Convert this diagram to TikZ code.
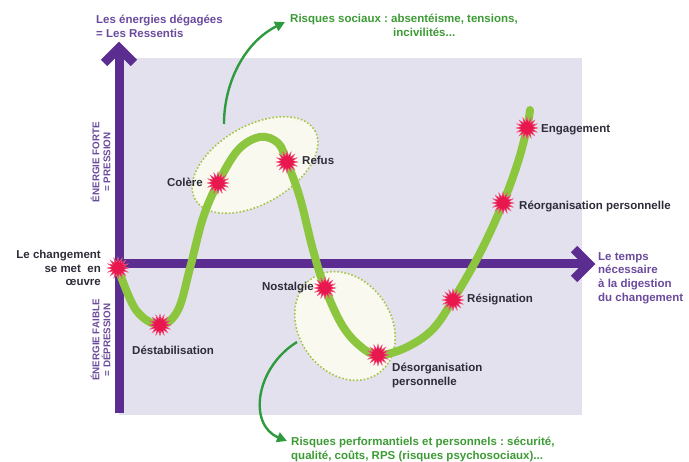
\documentclass[tikz,border=0pt]{standalone}
\usepackage{fontspec}
\setmainfont{Liberation Sans}
\frenchspacing
\usetikzlibrary{shapes.geometric,arrows.meta,calc}
\definecolor{axispurple}{HTML}{5C2D91}
\definecolor{txtpurple}{HTML}{6A4A9C}
\definecolor{lavender}{HTML}{E4E1EF}
\definecolor{riskgreen}{HTML}{2F9B3F}
\definecolor{risktxt}{HTML}{3D9B35}
\definecolor{dotgreen}{HTML}{A3C645}
\definecolor{ellfill}{HTML}{F9F9F0}
\definecolor{starred}{HTML}{E8174E}
\definecolor{darktxt}{HTML}{2D2D3A}
\definecolor{curvegreen}{HTML}{8CC63E}
\tikzset{
  burst/.style={star, star points=16, star point ratio=1.8, minimum size=22pt, inner sep=0pt, fill=starred, draw=starred!70!white, line width=0.4pt},
  axisline/.style={draw=axispurple, line width=9pt},
  axishead/.style={draw=axispurple, line width=9pt, miter limit=10, line join=miter},
  zone/.style={draw=dotgreen, fill=ellfill, line width=1.6pt, dotted},
  riskarrow/.style={draw=riskgreen, line width=2.4pt, -{Triangle[length=10pt,width=10pt]}},
  curve/.style={draw=curvegreen, line width=8pt, line cap=round},
  stage/.style={font=\bfseries\fontsize{11.5}{13.5}\selectfont, text=darktxt, inner sep=0pt},
  purpletxt/.style={font=\bfseries\fontsize{11.5}{13.8}\selectfont, text=txtpurple, inner sep=0pt, align=left},
  vlabel/.style={font=\bfseries\fontsize{9.8}{11}\selectfont, text=txtpurple, inner sep=0pt, align=center, rotate=90},
  risktext/.style={font=\bfseries\fontsize{11.5}{14}\selectfont, text=risktxt, inner sep=0pt, align=left}
}
\begin{document}
\begin{tikzpicture}[x=1pt,y=-1pt]
\useasboundingbox (0,0) rectangle (689,462);
% background panel
\fill[lavender] (119,58) rectangle (582,415);
% zones
\draw[zone, rotate around={30:(255,165)}] (255,165) ellipse (69 and 39);
\draw[zone, rotate around={-55:(345,326)}] (345,326) ellipse (58 and 46);
% axes
\coordinate (yb) at (119,413);
\coordinate (yt) at (119,48);
\coordinate (xl) at (119,264);
\coordinate (xt) at (589,264);
\draw[axisline] (yb) -- ($(yt)+(0,6)$);
\draw[axishead] ($(yt)+(-15,15)$) -- (yt) -- ($(yt)+(15,15)$);
\draw[axisline] (xl) -- ($(xt)+(-6,0)$);
\draw[axishead] ($(xt)+(-15,-15)$) -- (xt) -- ($(xt)+(-15,15)$);
% texts
\node[purpletxt, anchor=west] (ylab) at (96,26.5) {Les énergies dégagées\\= Les Ressentis};
\node[risktext, anchor=west] (rs) at (290,25.5) {Risques sociaux : absentéisme, tensions,\\\hspace*{103pt}incivilités...};
\node[vlabel] (forte) at (100.5,162) {ÉNERGIE FORTE\\= PRESSION};
\node[vlabel] (faible) at (100.5,340) {ÉNERGIE FAIBLE\\= DÉPRESSION};
\node[purpletxt, anchor=west] (temps) at (598,278) {Le temps\\nécessaire\\à la digestion\\du changement};
\node[risktext, anchor=west] (rp) at (291,449.5) {Risques performantiels et personnels : sécurité,\\qualité, coûts, RPS (risques psychosociaux)...};
% risk arrows
\coordinate (a1s) at (224,124);
\coordinate (a1e) at (285,22);
\coordinate (a2s) at (297,342);
\coordinate (a2e) at (287,441);
\draw[riskarrow] (a1s) .. controls (224,82) and (245,42) .. (a1e);
\draw[riskarrow] (a2s) .. controls (255,368) and (248,425) .. (a2e);
% curve
\coordinate (p0) at (118,268);
\coordinate (p1) at (160,325);
\coordinate (p2) at (218,183);
\coordinate (p3) at (287,162);
\coordinate (p4) at (325,288);
\coordinate (p5) at (378,355);
\coordinate (p6) at (453,300);
\coordinate (p7) at (503,203);
\coordinate (p8) at (527,128);
\coordinate (pend) at (530,110);
\draw[curve] plot[smooth, tension=0.6] coordinates {(p0) (136,310) (p1) (178,310) (190,268) (203,218) (p2) (238,150) (260,137) (278,143) (p3) (300,198) (313,250) (p4) (342,325) (360,346) (p5) (405,348) (432,330) (p6) (480,253) (p7) (518,162) (p8) (pend)};
% stars
\foreach \i in {0,...,8} { \node[burst] (s\i) at (p\i) {}; }
% stage labels
\node[stage, anchor=east, align=right] (l0) at (101,268) {Le changement\\se met\ \ en\\œuvre};
\node[stage, anchor=west] (l1) at (132,350) {Déstabilisation};
\node[stage, anchor=east] (l2) at (203,182) {Colère};
\node[stage, anchor=west] (l3) at (302,160) {Refus};
\node[stage, anchor=east] (l4) at (314,288) {Nostalgie};
\node[stage, anchor=west, align=left] (l5) at (392,375.5) {Désorganisation\\personnelle};
\node[stage, anchor=west] (l6) at (467,300) {Résignation};
\node[stage, anchor=west] (l7) at (519,207) {Réorganisation personnelle};
\node[stage, anchor=west] (l8) at (541,130) {Engagement};
\end{tikzpicture}
\end{document}
